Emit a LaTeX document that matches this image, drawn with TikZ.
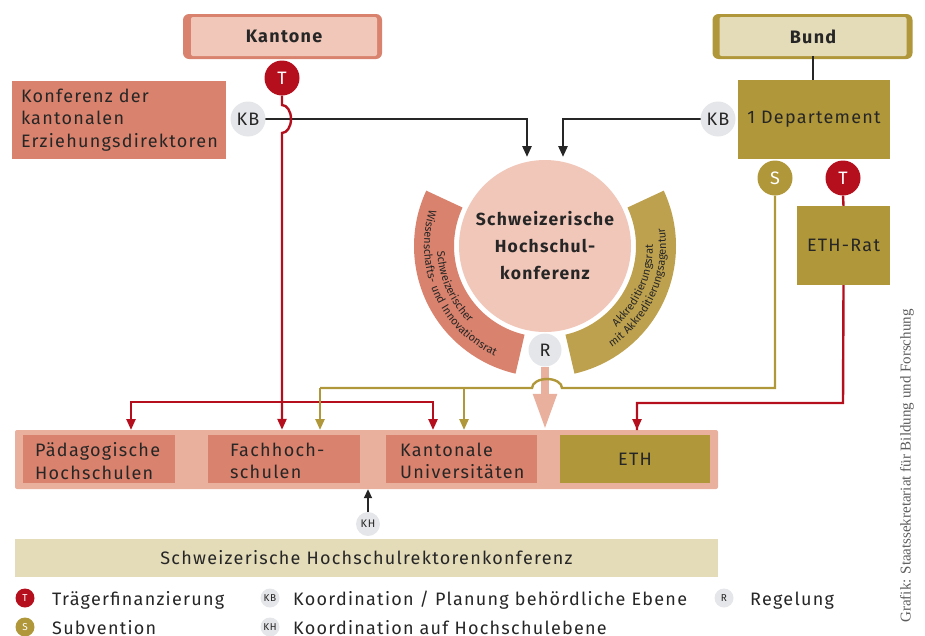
\documentclass[tikz,border=0pt]{standalone}
\usepackage{fontspec}
\setmainfont{Fira Sans}[LetterSpace=7]
\newfontfamily\creditfont{Liberation Serif}
\usetikzlibrary{arrows.meta,decorations.text,calc}
\definecolor{salmon}{HTML}{D9826D}
\definecolor{pinklight}{HTML}{F0C7B9}
\definecolor{pinkmid}{HTML}{E8B09D}
\definecolor{olive}{HTML}{B09739}
\definecolor{olivearc}{HTML}{BEA14F}
\definecolor{olivelight}{HTML}{E4DBB8}
\definecolor{tred}{HTML}{B50F1E}
\definecolor{badgegray}{HTML}{E5E6E9}
\definecolor{ink}{HTML}{262626}
\newcommand{\arclabelfont}{\fontsize{11}{11}\selectfont\color{ink}}
\begin{document}
\begin{tikzpicture}[x=1pt,y=-1pt,
  every node/.style={text=ink},
  txt/.style={font=\fontsize{18}{22.5}\selectfont},
  boxnode/.style={inner sep=0pt, fill=#1},
  badge/.style={circle, inner sep=0pt, minimum size=35pt, font=\fontsize{18}{18}\selectfont},
  tbadge/.style={badge, fill=tred, text=white},
  sbadge/.style={badge, fill=olive, text=white},
  gbadge/.style={badge, fill=badgegray, text=ink},
  smallbadge/.style={circle, inner sep=0pt, minimum size=19pt, font=\fontsize{10}{10}\selectfont},
  legendtxt/.style={inner sep=0pt, anchor=base west, font=\fontsize{18}{18}\selectfont},
  blackline/.style={draw=ink, line width=2.6pt},
  redline/.style={draw=tred, line width=2.4pt},
  oliveline/.style={draw=olive, line width=2.4pt},
  tip/.style={-{Triangle[length=11pt,width=9pt]}}
]
\useasboundingbox (0,0) rectangle (925,635);

% ---------- top boxes ----------
\node[boxnode=salmon, rounded corners=6pt, minimum width=199pt, minimum height=45pt] (kantoneFrame) at (282.5,36.5) {};
\node[boxnode=pinklight, rounded corners=2pt, minimum width=186pt, minimum height=39pt, font=\bfseries\fontsize{18}{18}\selectfont] (kantone) at (284,36.5) {Kantone};

\node[boxnode=olive, rounded corners=6pt, minimum width=200pt, minimum height=45pt] (bundFrame) at (812.5,36.5) {};
\node[boxnode=olivelight, rounded corners=2pt, minimum width=187pt, minimum height=39pt, font=\bfseries\fontsize{18}{18}\selectfont] (bund) at (813,36.5) {Bund};

\node[boxnode=salmon, minimum width=214pt, minimum height=78pt, txt, text width=196pt, inner xsep=9pt, align=left] (edk) at (119,120) {Konferenz der\\kantonalen\\Erziehungsdirektoren};

\node[boxnode=olive, minimum width=152pt, minimum height=79pt, txt] (dep) at (814,119.5) {1 Departement};
\node[boxnode=olive, minimum width=93pt, minimum height=79pt, txt] (ethrat) at (843.5,245.5) {ETH-Rat};

% ---------- central circle and arcs ----------
\coordinate (c) at (545,246);
\fill[salmon] ([shift={(103:91)}]c) arc[start angle=103, end angle=205, radius=91]
  -- ([shift={(205:131)}]c) arc[start angle=205, end angle=103, radius=131] -- cycle;
\fill[olivearc] ([shift={(77:91)}]c) arc[start angle=77, end angle=-25, radius=91]
  -- ([shift={(-25:131)}]c) arc[start angle=-25, end angle=77, radius=131] -- cycle;

\path[decorate, decoration={text along path, text align=center, text={|\arclabelfont|Schweizerischer}}]
  ([shift={(212:108)}]c) arc[start angle=212, end angle=100, radius=108];
\path[decorate, decoration={text along path, text align=center, text={|\arclabelfont|Wissenschafts- und Innovationsrat}}]
  ([shift={(212:121)}]c) arc[start angle=212, end angle=100, radius=121];
\path[decorate, decoration={text along path, text align=center, text={|\arclabelfont|Akkreditierungsrat}}]
  ([shift={(80:108)}]c) arc[start angle=80, end angle=-32, radius=108];
\path[decorate, decoration={text along path, text align=center, text={|\arclabelfont|mit Akkreditierungsagentur}}]
  ([shift={(80:121)}]c) arc[start angle=80, end angle=-32, radius=121];

\node[circle, fill=pinklight, minimum size=172pt, inner sep=0pt, align=center,
      font=\bfseries\fontsize{17.5}{27}\selectfont] (shk) at (c) {Schweizerische\\Hochschul-\\konferenz};

% ---------- lower boxes ----------
\node[boxnode=pinkmid, rounded corners=2pt, minimum width=703pt, minimum height=59pt] (hs) at (366.5,459.5) {};
\node[boxnode=salmon, minimum width=152pt, minimum height=48pt] (ph) at (99,459) {};
\node[boxnode=salmon, minimum width=152pt, minimum height=48pt] (fh) at (284,459) {};
\node[boxnode=salmon, minimum width=151pt, minimum height=48pt] (ku) at (461.5,459) {};
\node[boxnode=olive, minimum width=150pt, minimum height=48pt, txt] (eth) at (635,459) {ETH};
\node[txt, anchor=west, align=left, inner sep=0pt] (phText) at (35,461) {Pädagogische\\Hochschulen};
\node[txt, anchor=west, align=left, inner sep=0pt] (fhText) at (230,461) {Fachhoch-\\schulen};
\node[txt, anchor=west, align=left, inner sep=0pt] (kuText) at (400,461) {Kantonale\\Universitäten};

\node[boxnode=olivelight, minimum width=703pt, minimum height=38pt, txt] (rektoren) at (366.5,558) {Schweizerische Hochschulrektorenkonferenz};

% ---------- connector helper points ----------
\coordinate (inL) at (527,157);
\coordinate (inR) at (563,157);
\coordinate (redJ) at (282,402);
\coordinate (phIn) at (131,430);
\coordinate (kuInR) at (433,430);
\coordinate (oliveTurn) at (775,388);
\coordinate (hopR) at (562,388);
\coordinate (oliveL) at (320,388);
\coordinate (fhInO) at (320,430);
\coordinate (oliveJ) at (464,388);
\coordinate (kuInO) at (464,430);
\coordinate (ethTurn) at (843,403);
\coordinate (ethIn) at (637,430);

% ---------- connectors ----------
\draw[blackline] (bund.south) -- (bund.south |- dep.north);
\draw[blackline, tip] (248,119) -| (inL);
\draw[blackline, tip] (718,119) -| (inR);

% pink regulation arrow
\node[gbadge, minimum size=33pt] (reg) at (545,350) {R};
\draw[draw=pinkmid, line width=8pt, -{Triangle[length=36pt,width=22pt]}] (reg.south) -- (reg.south |- hs.north);

% red (Traegerfinanzierung) Kantone
\node[tbadge] (tL) at (282,78) {T};
\draw[redline, tip] (tL.south) -- (282,105) arc[start angle=-90, end angle=90, x radius=9, y radius=14] -- (tL |- hs.north);
\draw[redline, tip] (redJ) -| (phIn);
\draw[redline, tip] (redJ) -| (kuInR);

% olive (Subvention)
\node[sbadge] (sB) at (775,178) {S};
\draw[oliveline] (sB.south) -- (oliveTurn) -- (hopR) arc[start angle=0, end angle=-180, x radius=15, y radius=9] -- (oliveL);
\draw[oliveline, tip] (oliveL) -- (fhInO);
\draw[oliveline, tip] (oliveJ) -- (kuInO);

% red Bund -> ETH-Rat -> ETH
\node[tbadge] (tR) at (843,178) {T};
\draw[redline] (tR.south) -- (ethrat.north);
\draw[redline] (ethrat.south) -- (ethTurn) -| (ethIn);
\draw[redline, tip] (ethIn |- ethTurn) -- (ethIn);

% KB badges on top
\node[gbadge] (kbL) at (248,119) {KB};
\node[gbadge] (kbR) at (718,119) {KB};

% KH
\node[smallbadge, fill=badgegray, minimum size=24pt, font=\fontsize{11}{11}\selectfont] (kh) at (368,524) {KH};
\draw[draw=ink, line width=2pt, -{Triangle[length=9pt,width=8pt]}] (kh.north) -- (kh.north |- hs.south);

% ---------- legend ----------
\node[smallbadge, fill=tred, text=white] (legT) at (25,598) {T};
\node[legendtxt] (legTtxt) at (52,605) {Trägerfinanzierung};
\node[smallbadge, fill=olive, text=white] (legS) at (25,627) {S};
\node[legendtxt] (legStxt) at (52,634) {Subvention};
\node[smallbadge, fill=badgegray] (legKB) at (270,598) {KB};
\node[legendtxt] (legKBtxt) at (293,605) {Koordination / Planung behördliche Ebene};
\node[smallbadge, fill=badgegray] (legKH) at (270,627) {KH};
\node[legendtxt] (legKHtxt) at (293,634) {Koordination auf Hochschulebene};
\node[smallbadge, fill=badgegray] (legR) at (724,598) {R};
\node[legendtxt] (legRtxt) at (750,605) {Regelung};

% ---------- credit ----------
\node[rotate=90, text=ink!75, font=\creditfont\fontsize{15}{15}\selectfont, inner sep=0pt] (credit) at (907,466) {Grafik: Staatssekretariat für Bildung und Forschung};
\end{tikzpicture}
\end{document}
